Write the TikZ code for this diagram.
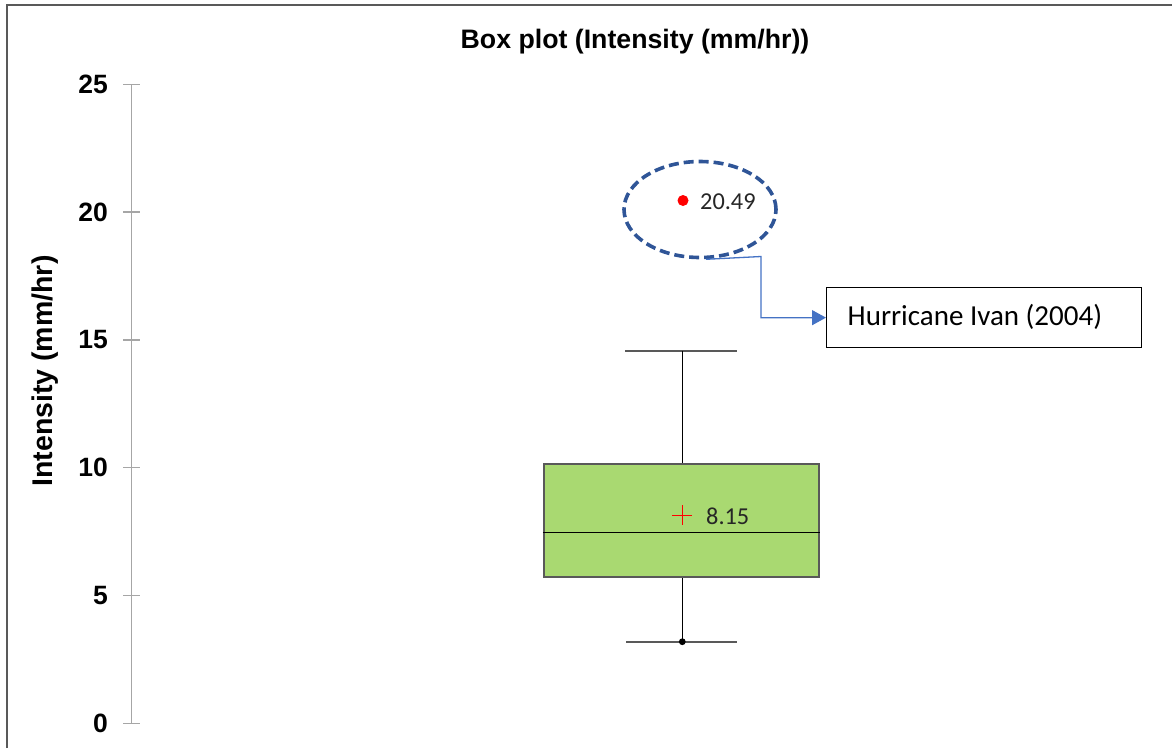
\documentclass[tikz,border=0pt]{standalone}
\usepackage{fontspec}
\setmainfont{Liberation Sans}
\newfontfamily\calib{Carlito}
\usetikzlibrary{shapes.geometric,arrows.meta}
\definecolor{frameg}{HTML}{595959}
\definecolor{axisg}{HTML}{A6A6A6}
\definecolor{boxgreen}{HTML}{A9D971}
\definecolor{ellblue}{HTML}{2F5597}
\definecolor{linkblue}{HTML}{4472C4}
\definecolor{txtgrey}{HTML}{262626}
\tikzset{
  ticklab/.style={anchor=east, inner sep=0pt, font=\fontsize{26.5}{30}\selectfont\bfseries},
  whisk/.style={line width=1.4pt, black},
  capline/.style={line width=2pt, frameg},
  vallab/.style={anchor=west, inner sep=0pt, text=txtgrey, font=\calib\fontsize{24.3}{28}\selectfont},
}
\begin{document}
\begin{tikzpicture}[x=1pt,y=-1pt]
\useasboundingbox (0,0) rectangle (1172,748);
% frame
\draw[frameg, line width=2.2pt] (7,748) -- (7,5) -- (1172,5);
% title
\node[inner sep=0pt, font=\fontsize{26.7}{30}\selectfont\bfseries] (title) at (635,42) {Box plot (Intensity (mm/hr))};
% y axis label
\node[inner sep=0pt, rotate=90, font=\fontsize{28.5}{32}\selectfont\bfseries] (ylab) at (45,371) {Intensity (mm/hr)};
% axis
\draw[axisg, line width=1.3pt] (131.5,84.3) -- (131.5,723.3);
\foreach \v in {0,5,10,15,20,25} {
  \draw[axisg, line width=1.3pt] (123,{723.3-25.56*\v}) -- (140,{723.3-25.56*\v});
  \node[ticklab] (t\v) at (108,{723.3-25.56*\v}) {\v};
}
% box plot
\coordinate (uw) at (682.3,350.5);
\coordinate (lw) at (682.3,641.7);
\draw[capline] (625,350.5) -- (737,350.5);
\draw[capline] (626,641.7) -- (737,641.7);
\draw[whisk] (uw) -- (682.3,464);
\draw[whisk] (682.3,576.7) -- (lw);
\fill[black] (lw) circle (3.4);
\node[draw=frameg, line width=1.8pt, fill=boxgreen, minimum width=275.6, minimum height=112.7, inner sep=0pt] (box) at (681.5,520.35) {};
\draw[line width=1.6pt, black] (box.west |- 0,532.3) -- (box.east |- 0,532.3);
% mean
\draw[red, line width=0.9pt] (672.3,515.3) -- (692.3,515.3) (682.3,505.3) -- (682.3,525.3);
\node[vallab] (meanlab) at (706,516) {8.15};
% outlier
\fill[red] (683,200.5) circle (5.5);
\node[vallab] (outlab) at (700,202) {20.49};
\node[ellipse, draw=ellblue, line width=3.6pt, dash pattern=on 10pt off 5pt, minimum width=152, minimum height=96, inner sep=0pt] (circ) at (700,209.5) {};
% annotation
\node[draw=black, line width=1.3pt, minimum width=315, minimum height=60, inner sep=0pt, anchor=north west] (note) at (826,287) {};
\node[anchor=west, inner sep=0pt, font=\calib\fontsize{29}{32}\selectfont] (notetxt) at (847.5,317) {Hurricane Ivan (2004)};
\draw[linkblue, line width=1.3pt, -{Triangle[length=14pt,width=15pt]}] ([xshift=6pt]circ.south) -- (761,256.5) |- (note.west);
\end{tikzpicture}
\end{document}
